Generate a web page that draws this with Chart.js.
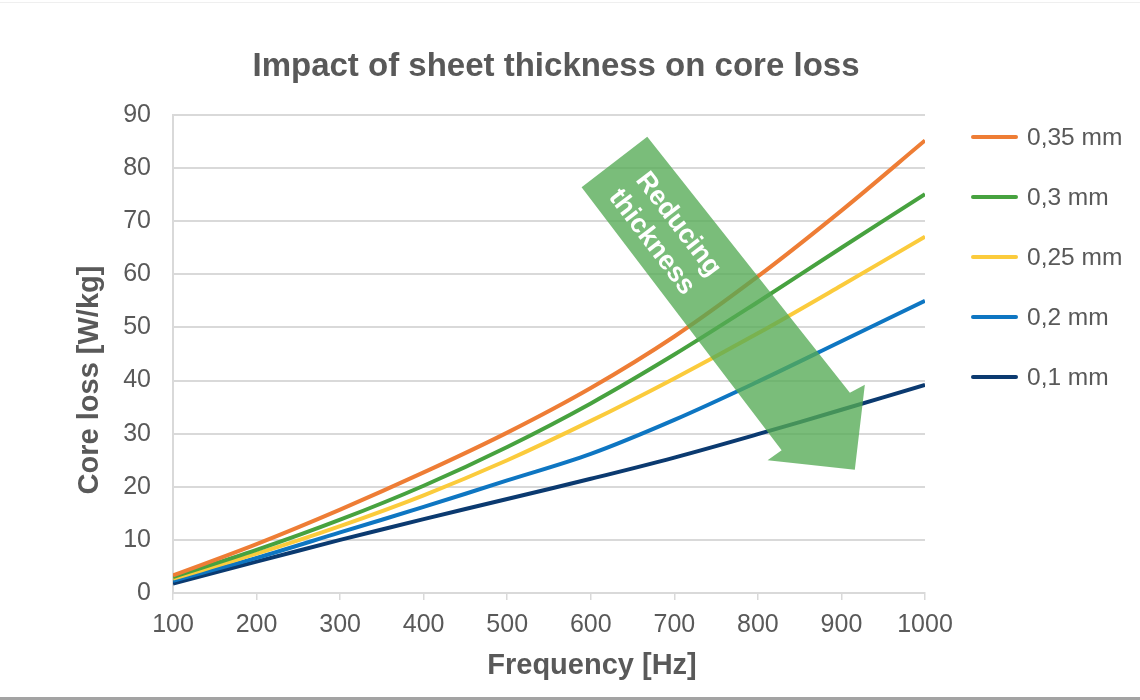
<!DOCTYPE html>
<html>
<head>
<meta charset="utf-8">
<script src="https://cdn.jsdelivr.net/npm/chart.js@4.4.1/dist/chart.umd.min.js"></script>
<style>
  html, body { margin: 0; padding: 0; background: #ffffff; }
  #wrap { position: relative; width: 1140px; height: 700px; overflow: hidden; }
  #topline { position: absolute; left: 0; top: 2px; width: 1140px; height: 1px; background: #efefef; }
  #botline { position: absolute; left: 0; top: 697px; width: 1140px; height: 3px; background: #a3a3a3; }
  canvas { position: absolute; left: 0; top: 0; }
</style>
</head>
<body>
<div id="wrap">
  <canvas id="c" width="1140" height="700"></canvas>
  <div id="topline"></div>
  <div id="botline"></div>
</div>
<script>
// ---- data ----
const frequencies = [100, 200, 300, 400, 500, 600, 700, 800, 900, 1000];
const loss035 = [3.3, 9.2, 15.7, 22.7, 30.2, 38.6, 48.3, 59.6, 72.0, 85.2];
const loss030 = [3.0, 8.1, 13.8, 20.2, 27.5, 35.7, 44.9, 54.8, 65.0, 75.1];
const loss025 = [2.7, 7.4, 12.6, 18.4, 25.0, 32.4, 40.4, 48.9, 57.9, 67.1];
const loss020 = [2.3, 6.6, 11.4, 16.2, 21.2, 26.2, 32.6, 39.8, 47.4, 55.0];
const loss010 = [1.8, 5.9, 10.0, 13.9, 17.7, 21.5, 25.5, 29.9, 34.5, 39.2];
const seriesLabels = ['0,35 mm', '0,3 mm', '0,25 mm', '0,2 mm', '0,1 mm'];
const seriesValues = [loss035, loss030, loss025, loss020, loss010];
const seriesColors = ['#EE7D35', '#47A23F', '#FBCB3C', '#0E76C2', '#0B3A70'];
const xTickValues = [100, 200, 300, 400, 500, 600, 700, 800, 900, 1000];
const yTickValues = [0, 10, 20, 30, 40, 50, 60, 70, 80, 90];
const chartTitle = 'Impact of sheet thickness on core loss';
const xTitle = 'Frequency [Hz]';
const yTitle = 'Core loss [W/kg]';

// Annotation arrow outline in data units (Hz, W/kg)
const arrowHz   = [589, 667.6, 910.1, 928, 916, 811.6, 828.4];
const arrowLoss = [76.4, 85.9, 37.7, 39.2, 23.2, 25.0, 26.9];
const arrowTextHz = 689, arrowTextLoss = 68.0;
const arrowText = ['Reducing', 'thickness'];

const FONT = '"Liberation Sans", Arial, Helvetica, sans-serif';
const TXT = '#595959';

const datasets = seriesLabels.map((lab, i) => ({
  label: lab,
  data: frequencies.map((f, j) => ({ x: f, y: seriesValues[i][j] })),
  borderColor: seriesColors[i],
  backgroundColor: seriesColors[i],
  borderWidth: 4,
  pointRadius: 0,
  fill: false,
  tension: 0.35
}));

const arrowPlugin = {
  id: 'arrowPlugin',
  afterDatasetsDraw(chart) {
    const { ctx, scales: { x, y } } = chart;
    ctx.save();
    ctx.beginPath();
    arrowHz.forEach((h, i) => {
      const px = x.getPixelForValue(h), py = y.getPixelForValue(arrowLoss[i]);
      if (i === 0) ctx.moveTo(px, py); else ctx.lineTo(px, py);
    });
    ctx.closePath();
    ctx.fillStyle = 'rgba(84,170,84,0.78)';
    ctx.fill();
    const cx = x.getPixelForValue(arrowTextHz), cy = y.getPixelForValue(arrowTextLoss);
    const p0x = x.getPixelForValue(arrowHz[0]), p0y = y.getPixelForValue(arrowLoss[0]);
    const p1x = x.getPixelForValue(arrowHz[6]), p1y = y.getPixelForValue(arrowLoss[6]);
    const ang = Math.atan2(p1y - p0y, p1x - p0x);
    ctx.translate(cx, cy);
    ctx.rotate(ang);
    ctx.fillStyle = '#ffffff';
    ctx.font = 'bold 27px ' + FONT;
    ctx.textAlign = 'center';
    ctx.textBaseline = 'middle';
    ctx.fillText(arrowText[0], 2, -15);
    ctx.fillText(arrowText[1], 0, 17);
    ctx.restore();
  }
};

const textPlugin = {
  id: 'texts',
  afterDraw(chart) {
    const ctx = chart.ctx;
    ctx.save();
    // title
    ctx.fillStyle = TXT;
    ctx.textAlign = 'center';
    ctx.textBaseline = 'middle';
    ctx.font = 'bold 33px ' + FONT;
    ctx.fillText(chartTitle, 556, 67);
    // axis titles
    ctx.font = 'bold 29px ' + FONT;
    ctx.fillText(xTitle, 592, 666);
    ctx.save();
    ctx.translate(90, 380);
    ctx.rotate(-Math.PI / 2);
    ctx.fillText(yTitle, 0, 0);
    ctx.restore();
    // legend
    chart.data.datasets.forEach((ds, i) => {
      const yy = 137 + i * 60;
      ctx.strokeStyle = ds.borderColor;
      ctx.lineWidth = 4;
      ctx.lineCap = 'round';
      ctx.beginPath();
      ctx.moveTo(973, yy);
      ctx.lineTo(1016, yy);
      ctx.stroke();
      ctx.fillStyle = TXT;
      ctx.font = '24.5px ' + FONT;
      ctx.textAlign = 'left';
      ctx.textBaseline = 'middle';
      ctx.fillText(ds.label, 1027, yy + 1);
    });
    ctx.restore();
  }
};

new Chart(document.getElementById('c'), {
  type: 'line',
  data: { datasets },
  plugins: [arrowPlugin, textPlugin],
  options: {
    responsive: false,
    animation: false,
    events: [],
    layout: { padding: { left: 20, right: 215, top: 115, bottom: 0 } },
    plugins: {
      legend: { display: false },
      tooltip: { enabled: false },
      title: { display: false }
    },
    scales: {
      x: {
        type: 'linear',
        min: 100, max: 1000,
        afterBuildTicks(scale) { scale.ticks = xTickValues.map(v => ({ value: v })); },
        afterFit(scale) { scale.height = 107; },
        grid: { drawOnChartArea: false, drawTicks: true, tickLength: 7, color: '#d9d9d9', lineWidth: 1.5 },
        border: { display: true, color: '#d9d9d9', width: 2 },
        ticks: { color: TXT, font: { family: FONT, size: 25 }, padding: 10, maxRotation: 0, autoSkip: false,
                 callback: v => String(v) }
      },
      y: {
        min: 0, max: 90,
        afterBuildTicks(scale) { scale.ticks = yTickValues.map(v => ({ value: v })); },
        afterFit(scale) { scale.width = 153; },
        grid: { drawTicks: false, color: '#d9d9d9', lineWidth: 2 },
        border: { display: true, color: '#d9d9d9', width: 2 },
        ticks: { color: TXT, font: { family: FONT, size: 25 }, padding: 22, callback: v => String(v) }
      }
    }
  }
});
</script>
</body>
</html>
